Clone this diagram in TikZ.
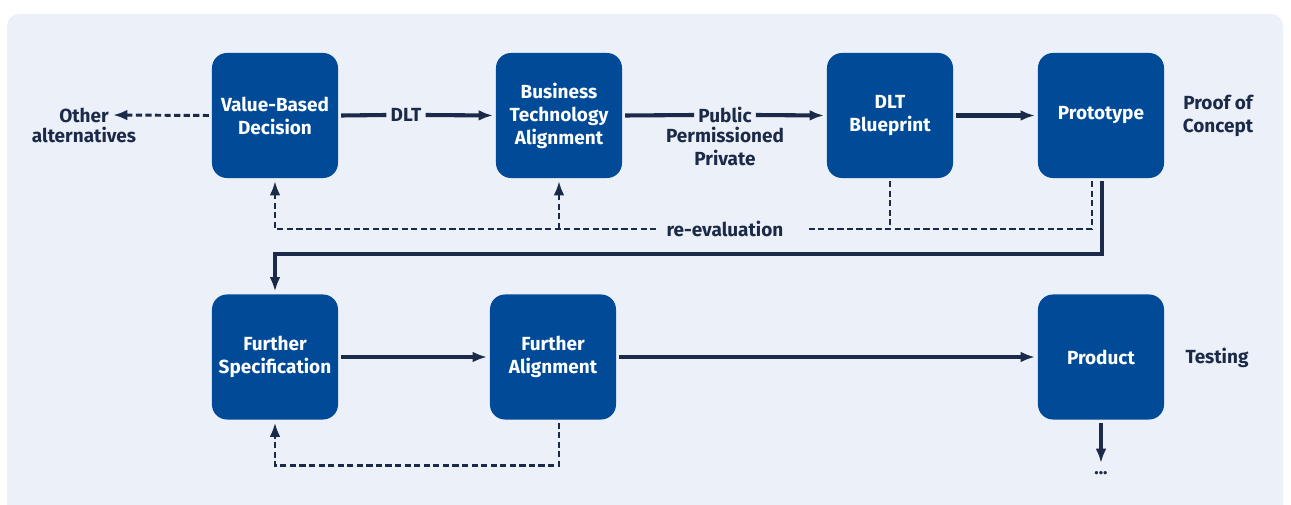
\documentclass[tikz,border=0pt]{standalone}
\usepackage{fontspec}
\setmainfont{Fira Sans}
\usetikzlibrary{arrows.meta}
\definecolor{boxblue}{HTML}{004A98}
\definecolor{ink}{HTML}{1B2A48}
\definecolor{panel}{HTML}{ECF0F8}
\tikzset{
  stage/.style={fill=boxblue, text=white, rounded corners=0.375cm, minimum width=3.15cm,
    minimum height=3.125cm, inner sep=0pt, outer sep=0.075cm, align=center,
    font=\bfseries\fontsize{13.5}{16.3}\selectfont},
  note/.style={text=ink, align=center, inner sep=0.1cm, font=\bfseries\fontsize{13.5}{16.3}\selectfont},
  flow/.style={draw=ink, line width=2.9pt, -{Latex[length=0.36cm,width=0.27cm]}},
  plain/.style={draw=ink, line width=2.9pt},
  back/.style={draw=ink, line width=2.1pt, dash pattern=on 4.4pt off 2.4pt},
  backarrow/.style={back, -{Latex[length=0.36cm,width=0.27cm]}}
}
\begin{document}
\begin{tikzpicture}[x=0.025cm, y=-0.025cm, line join=miter]
			%%%%% START %%%%%
			
			\useasboundingbox (0,0) rectangle (1291,505);
			\fill[panel] (7,505) {[rounded corners=0.3cm] -- (7,14) -- (1283,14)} -- (1283,505) -- cycle;
			
			% top row
			\node[stage] (vbd) at (275,115.5) {Value-Based\\Decision};
			\node[stage] (bta) at (559,115.5) {Business\\Technology\\Alignment};
			\node[stage] (blue) at (890,115.5) {DLT\\Blueprint};
			\node[stage] (proto) at (1101,115.5) {Prototype};
			
			% bottom row
			\node[stage] (fsp) at (275,357) {Further\\Specification};
			\node[stage] (fal) at (553,357) {Further\\Alignment};
			\node[stage] (prod) at (1101,357) {Product};
			
			% side texts
			\node[note] (other) at (84,115) {Other};
			\node[note, anchor=north, inner sep=0pt] (alt) at (other.south) {alternatives};
			\node[note] (dlt) at (406,115) {DLT};
			\node[note] (pub) at (725,115) {Public};
			\node[note, anchor=north, inner sep=0pt] (perm) at (pub.south) {Permissioned\\Private};
			\node[note, inner sep=0.25cm] (reeval) at (725,229) {re-evaluation};
			\node[note] (poc) at (1218,116) {Proof of\\Concept};
			\node[note] (test) at (1217,358) {Testing};
			\node[text=ink, inner sep=0pt, font=\bfseries\fontsize{13}{16.3}\selectfont] (dots) at (1101,473) {...};
			\coordinate (bend) at (1102,254);
			
			% main flow
			\draw[backarrow] (vbd.west) -- (other.east);
			\draw[plain] (vbd.east) -- (dlt.west);
			\draw[flow] (dlt.east) -- (bta.west);
			\draw[plain] (bta.east) -- (pub.west);
			\draw[flow] (pub.east) -- (blue.west);
			\draw[flow] (blue.east) -- (proto.west);
			\draw[flow] ([xshift=0.025cm]proto.south) -- (bend) -| (fsp.north);
			\draw[flow] (fsp.east) -- (fal.west);
			\draw[flow] (fal.east) -- (prod.west);
			\draw[flow, shorten >=0.2cm] (prod.south) -- (dots.north);
			
			% re-evaluation loops
			\draw[back] ([xshift=-0.225cm]proto.south) |- ([xshift=0.3cm]reeval.east);
			\draw[back] (blue.south) -- (blue.south |- reeval.east);
			\draw[backarrow] (reeval.west) -| (vbd.south);
			\draw[backarrow] (bta.south |- reeval.west) -- (bta.south);
			\draw[backarrow] ([xshift=0.15cm]fal.south) -- ++(0,43) -| (fsp.south);
			
			%%%%% END %%%%%
\end{tikzpicture}
\end{document}
